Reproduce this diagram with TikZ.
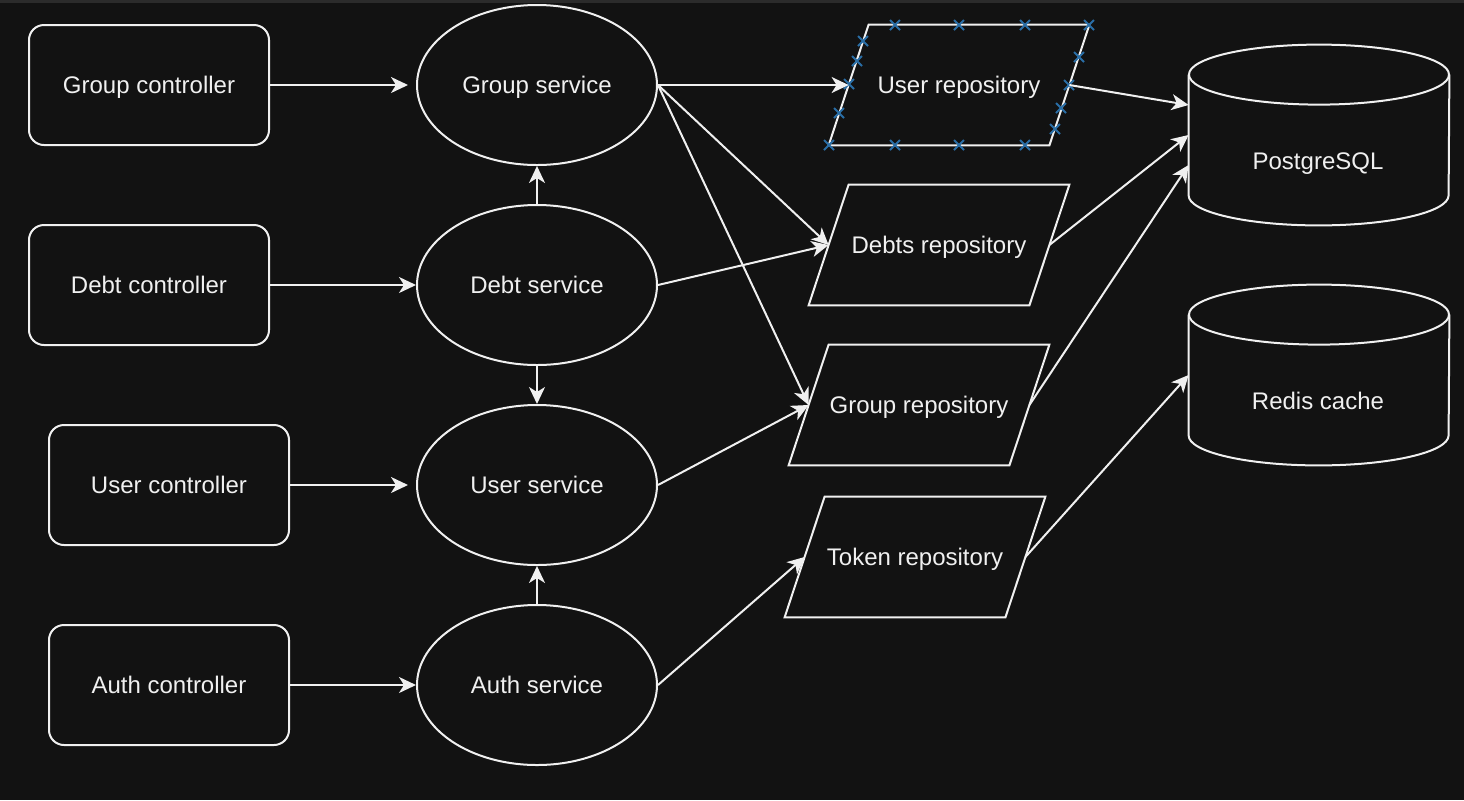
\documentclass[tikz,border=0pt]{standalone}
\usepackage{fontspec}
\setmainfont{Liberation Sans}
\usetikzlibrary{arrows.meta,shapes.geometric,calc}
\definecolor{bg}{HTML}{121212}
\definecolor{strip}{HTML}{2B2B2B}
\definecolor{fg}{HTML}{F0F0F0}
\definecolor{hint}{HTML}{2A6EA6}
\tikzset{hx/.pic={\draw[draw=hint, line width=1pt] (-5,-5)--(5,5) (-5,5)--(5,-5);}}
\begin{document}
\begin{tikzpicture}[x=0.5pt,y=-0.5pt,
  every node/.style={font=\fontsize{12pt}{14pt}\selectfont, text=fg, text height=11pt, text depth=2.6pt},
  outline/.style={draw=fg, line width=1pt},
  ctrl/.style={outline, rounded corners=7.5pt, minimum width=120pt, minimum height=60pt, inner sep=0pt},
  svc/.style={outline, ellipse, minimum width=120pt, minimum height=80pt, inner sep=0pt},
  repo/.style={minimum width=110pt, minimum height=60pt, inner sep=0pt},
  db/.style={minimum width=130pt, minimum height=90pt, inner sep=0pt},
  conn/.style={draw=fg, line width=1pt, -{Stealth[length=8.5pt,width=8pt,inset=2.5pt]}}
]
\fill[bg] (0,0) rectangle (1464,800);
\fill[strip] (0,0) rectangle (1464,3);

% controllers
\node[ctrl] (gc) at (149,85) {Group controller};
\node[ctrl] (dc) at (149,285) {Debt controller};
\node[ctrl] (uc) at (169,485) {User controller};
\node[ctrl] (ac) at (169,685) {Auth controller};

% services
\node[svc] (gs) at (537,85) {Group service};
\node[svc] (ds) at (537,285) {Debt service};
\node[svc] (us) at (537,485) {User service};
\node[svc] (as) at (537,685) {Auth service};

% repositories
\node[repo] (ur) at (959,85) {User repository};
\node[repo] (dr) at (939,245) {Debts repository};
\node[repo] (gr) at (919,405) {Group repository};
\node[repo] (tr) at (915,557) {Token repository};
\foreach \n in {ur,dr,gr,tr}
  \draw[outline] ([xshift=10pt]\n.north west) -- ([xshift=10pt]\n.north east)
     -- ([xshift=-10pt]\n.south east) -- ([xshift=-10pt]\n.south west) -- cycle;

% hint crosses on user repository
\foreach \a/\b in {895/25,959/25,1025/25,1089/25,829/145,895/145,959/145,1025/145,
                   863/41,857/61,849/84,839/113,1079/57,1069/85,1061/108,1055/129}
  \pic at (\a,\b) {hx};

% databases
\node[db] (pg) at (1319,135) {};
\node[db] (rc) at (1319,375) {};
\foreach \n in {pg,rc}{
  \draw[outline] ([yshift=-15pt]\n.north west) -- ([yshift=15pt]\n.south west)
     arc[start angle=180, end angle=360, x radius=65pt, y radius=15pt]
     -- ([yshift=-15pt]\n.north east);
  \draw[outline] ([yshift=-15pt]\n.north) ellipse [x radius=65pt, y radius=15pt];
}
\node (pgt) at (1318,161) {PostgreSQL};
\node (rct) at (1318,401) {Redis cache};

% connectors
\draw[conn, shorten >=4pt] (gc.east) -- (gs.west);
\draw[conn] (dc.east) -- (ds.west);
\draw[conn, shorten >=4pt] (uc.east) -- (us.west);
\draw[conn] (ac.east) -- (as.west);

\draw[conn] (ds.north) -- (gs.south);
\draw[conn] (ds.south) -- (us.north);
\draw[conn] (as.north) -- (us.south);

\draw[conn] (gs.east) -- (ur.west);
\draw[conn] (gs.east) -- (dr.west);
\draw[conn] (gs.east) -- (gr.west);
\draw[conn] (ds.east) -- (dr.west);
\draw[conn] (us.east) -- (gr.west);
\draw[conn] (as.east) -- (tr.west);

\draw[conn] (ur.east) -- ([yshift=15pt]pg.west);
\draw[conn] (dr.east) -- (pg.west);
\draw[conn] (gr.east) -- ([yshift=-15pt]pg.west);
\draw[conn] (tr.east) -- (rc.west);
\end{tikzpicture}
\end{document}
